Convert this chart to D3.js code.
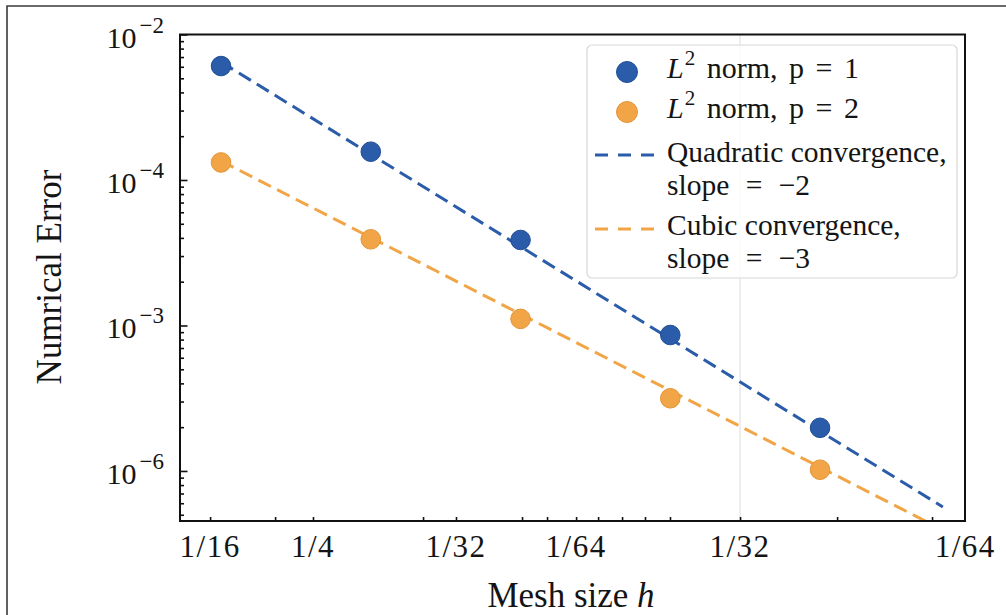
<!DOCTYPE html>
<html>
<head>
<meta charset="utf-8">
<script src="https://cdn.jsdelivr.net/npm/d3@7"></script>
<style>
  body { margin: 0; background: #fff; }
  svg { display: block; }
  text { font-family: "Liberation Serif", "DejaVu Serif", serif; fill: #141414; }
</style>
</head>
<body>
<svg id="chart" width="1006" height="615"></svg>
<script>
// values
const meshIndex = [0, 1, 2, 3, 4];
const errP1 = [6.07e-3, 1.565e-3, 3.87e-4, 8.60e-5, 1.98e-5];
const errP2 = [1.32e-3, 3.91e-4, 1.11e-4, 3.16e-5, 1.02e-5];
const refX = [0, 4.82];
const quadRef = [6.47e-3, 5.66e-6];
const cubicRef = [1.351e-3, 3.93e-6];

const xTickPos = [-0.073, 0.361, 0.614, 1.349, 1.569, 2.010, 2.177, 2.371, 2.518, 2.678, 2.831, 2.998, 3.466, 4.114, 4.748];
const xLabelPos = [-0.073, 0.614, 1.569, 2.371, 3.466, 4.97];
const xLabels = ["1/16", "1/4", "1/32", "1/64", "1/32", "1/64"];
const yMajor = [1e-2, 1e-3, 1e-4, 1e-5];
const yLabelExp = ["\u22122", "\u22124", "\u22123", "\u22126"];

const blue = "#2b5ca9", blueEdge = "#1f4d96";
const orange = "#f1a547", orangeEdge = "#e39436";

const svg = d3.select("#chart");
const L = 180, R = 965, T = 34.5, B = 521;

const x = d3.scaleLinear().domain([-0.274, 4.968]).range([L, R]);
const y = d3.scaleLog().domain([4.53e-6, 1e-2]).range([B, T]);

// outer picture border
svg.append("path")
  .attr("d", "M7,615V6H1006")
  .attr("fill", "none").attr("stroke", "#3a3a3a").attr("stroke-width", 1.6);

svg.append("defs").append("clipPath").attr("id", "plot")
  .append("rect").attr("x", L).attr("y", T).attr("width", R - L).attr("height", B - T);

// lone grid line
svg.append("line")
  .attr("x1", x(xLabelPos[4])).attr("x2", x(xLabelPos[4]))
  .attr("y1", T).attr("y2", B)
  .attr("stroke", "#dcdcdc").attr("stroke-width", 1);

const line = d3.line().x(d => x(d[0])).y(d => y(d[1]));
const plot = svg.append("g").attr("clip-path", "url(#plot)");

plot.append("path")
  .attr("d", line(d3.zip(refX, quadRef)))
  .attr("fill", "none").attr("stroke", blue).attr("stroke-width", 3)
  .attr("stroke-dasharray", "14,7");
plot.append("path")
  .attr("d", line(d3.zip(refX, cubicRef)))
  .attr("fill", "none").attr("stroke", orange).attr("stroke-width", 3)
  .attr("stroke-dasharray", "14,7");

plot.selectAll(".p1").data(d3.zip(meshIndex, errP1)).join("circle")
  .attr("cx", d => x(d[0])).attr("cy", d => y(d[1])).attr("r", 9.8)
  .attr("fill", blue).attr("stroke", blueEdge).attr("stroke-width", 1);
plot.selectAll(".p2").data(d3.zip(meshIndex, errP2)).join("circle")
  .attr("cx", d => x(d[0])).attr("cy", d => y(d[1])).attr("r", 9.8)
  .attr("fill", orange).attr("stroke", orangeEdge).attr("stroke-width", 1);

// ticks (pointing inward)
const isMajor = t => Math.abs(Math.log10(t) - Math.round(Math.log10(t))) < 1e-6;
const yMinor = y.ticks().filter(t => !isMajor(t));

const yMinorAxis = svg.append("g").attr("transform", `translate(${L},0)`)
  .call(d3.axisLeft(y).tickValues(yMinor).tickSize(-4).tickFormat(""));
const yMajorAxis = svg.append("g").attr("transform", `translate(${L},0)`)
  .call(d3.axisLeft(y).tickValues(yMajor).tickSize(-7.5).tickFormat(""));
const xAxis = svg.append("g").attr("transform", `translate(0,${B})`)
  .call(d3.axisBottom(x).tickValues(xTickPos).tickSize(-4).tickFormat(""));
[yMinorAxis, yMajorAxis, xAxis].forEach(g => {
  g.select(".domain").remove();
  g.selectAll(".tick line").attr("stroke", "#111").attr("stroke-width", 1.6);
});

// frame
svg.append("rect")
  .attr("x", L).attr("y", T).attr("width", R - L).attr("height", B - T)
  .attr("fill", "none").attr("stroke", "#111").attr("stroke-width", 2);

// y tick labels
const yl = svg.append("g").selectAll("text").data(yMajor).join("text")
  .attr("x", 164).attr("y", d => y(d) + 13)
  .attr("text-anchor", "end").style("font-size", "30px");
yl.append("tspan").text("10");
yl.append("tspan").attr("dx", 3).attr("dy", -15).style("font-size", "23px").text((d, i) => yLabelExp[i]);

// x tick labels
svg.append("g").selectAll("text").data(xLabelPos).join("text")
  .attr("x", d => x(d)).attr("y", 557)
  .attr("text-anchor", "middle").style("font-size", "31px").style("letter-spacing", "1.5px")
  .text((d, i) => xLabels[i]);

// axis titles
svg.append("text")
  .attr("transform", "translate(61,277) rotate(-90)")
  .attr("text-anchor", "middle").style("font-size", "35px")
  .text("Numrical Error");
const xt = svg.append("text")
  .attr("x", 571).attr("y", 607)
  .attr("text-anchor", "middle").style("font-size", "35px");
xt.append("tspan").text("Mesh size ");
xt.append("tspan").style("font-style", "italic").text("h");

// legend
const lg = svg.append("g");
lg.append("rect")
  .attr("x", 587).attr("y", 45).attr("width", 370).attr("height", 233).attr("rx", 5)
  .attr("fill", "#fff").attr("fill-opacity", 0.85)
  .attr("stroke", "#d8d8d8").attr("stroke-width", 1.2);

const normItems = [
  { cy: 72, base: 78, fill: blue, edge: blueEdge, p: "1" },
  { cy: 112, base: 118, fill: orange, edge: orangeEdge, p: "2" }
];
normItems.forEach(it => {
  lg.append("circle").attr("cx", 627).attr("cy", it.cy).attr("r", 10.5)
    .attr("fill", it.fill).attr("stroke", it.edge).attr("stroke-width", 1);
  const t = lg.append("text").attr("x", 667).attr("y", it.base)
    .style("font-size", "30px").style("word-spacing", "4px");
  t.append("tspan").style("font-style", "italic").text("L");
  t.append("tspan").attr("dx", 1).attr("dy", -13).style("font-size", "21px").text("2");
  t.append("tspan").attr("dy", 13).text(" norm, p = " + it.p);
});

const refItems = [
  { ly: 155, color: blue, lines: ["Quadratic convergence,", "slope = \u22122"], base: 162 },
  { ly: 229, color: orange, lines: ["Cubic convergence,", "slope = \u22123"], base: 235 }
];
refItems.forEach(it => {
  lg.append("line").attr("x1", 595).attr("x2", 655).attr("y1", it.ly).attr("y2", it.ly)
    .attr("stroke", it.color).attr("stroke-width", 3).attr("stroke-dasharray", "13,10");
  it.lines.forEach((s, i) => {
    lg.append("text").attr("x", 667).attr("y", it.base + i * 32.5)
      .style("font-size", "29.5px").style("word-spacing", i ? "9px" : "0px").text(s);
  });
});
</script>
</body>
</html>
